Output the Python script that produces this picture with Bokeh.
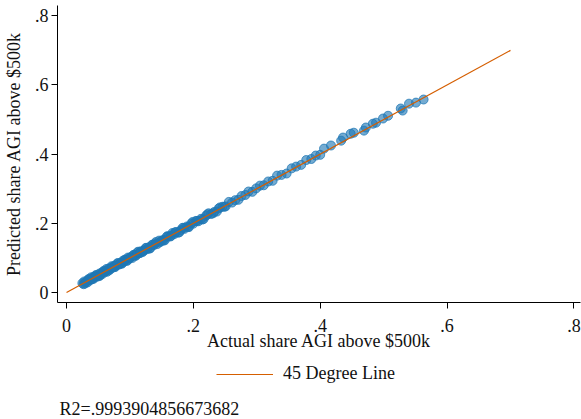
from bokeh.plotting import figure
from bokeh.layouts import column
from bokeh.models import Range1d, FixedTicker, Legend, LegendItem, Label
from bokeh.embed import file_html
from bokeh.resources import INLINE

# ---- data ----
actual_share = [
    0.025, 0.027, 0.028, 0.030, 0.031, 0.033, 0.034, 0.036, 0.037, 0.039,
    0.040, 0.042, 0.043, 0.045, 0.046, 0.048, 0.049, 0.051, 0.052, 0.054,
    0.056, 0.057, 0.059, 0.061, 0.062, 0.064, 0.066, 0.068, 0.069, 0.071,
    0.073, 0.075, 0.077, 0.079, 0.081, 0.083, 0.085, 0.087, 0.089, 0.091,
    0.093, 0.095, 0.097, 0.099, 0.101, 0.104, 0.106, 0.108, 0.110, 0.113,
    0.115, 0.117, 0.120, 0.122, 0.125, 0.127, 0.130, 0.132, 0.135, 0.138,
    0.140, 0.143, 0.146, 0.149, 0.152, 0.155, 0.158, 0.161, 0.164, 0.167,
    0.170, 0.173, 0.176, 0.180, 0.183, 0.186, 0.190, 0.193, 0.197, 0.200,
    0.204, 0.208, 0.212, 0.216, 0.220, 0.224, 0.228, 0.233, 0.237, 0.242,
    0.246, 0.251, 0.256, 0.261, 0.266, 0.271, 0.276, 0.282, 0.287, 0.293,
    0.299, 0.305, 0.311, 0.318, 0.325, 0.332, 0.339, 0.347, 0.355, 0.362,
    0.370, 0.378, 0.386, 0.393, 0.400,
    0.406, 0.417, 0.433, 0.436, 0.448, 0.453, 0.469, 0.472, 0.483, 0.488,
    0.499, 0.507, 0.527, 0.530, 0.540, 0.551, 0.563,
]
predicted_share = [
    0.027, 0.024, 0.032, 0.029, 0.031, 0.029, 0.037, 0.037, 0.035, 0.044,
    0.039, 0.044, 0.040, 0.045, 0.050, 0.046, 0.050, 0.047, 0.055, 0.053,
    0.058, 0.054, 0.063, 0.060, 0.062, 0.060, 0.069, 0.069, 0.067, 0.076,
    0.072, 0.077, 0.074, 0.079, 0.085, 0.081, 0.086, 0.083, 0.092, 0.090,
    0.095, 0.092, 0.101, 0.098, 0.101, 0.100, 0.109, 0.109, 0.108, 0.118,
    0.114, 0.119, 0.117, 0.122, 0.129, 0.125, 0.131, 0.128, 0.138, 0.137,
    0.142, 0.140, 0.150, 0.148, 0.152, 0.151, 0.161, 0.162, 0.162, 0.172,
    0.169, 0.175, 0.173, 0.180, 0.187, 0.184, 0.191, 0.189, 0.200, 0.199,
    0.207, 0.206, 0.213, 0.212, 0.222, 0.229, 0.227, 0.233, 0.234, 0.246,
    0.248, 0.249, 0.262, 0.260, 0.267, 0.268, 0.279, 0.282, 0.292, 0.291,
    0.301, 0.309, 0.310, 0.321, 0.323, 0.338, 0.340, 0.344, 0.359, 0.364,
    0.369, 0.383, 0.386, 0.396, 0.398,
    0.416, 0.425, 0.439, 0.448, 0.459, 0.462, 0.468, 0.477, 0.488, 0.491,
    0.503, 0.511, 0.532, 0.526, 0.546, 0.549, 0.558,
]
# second batch of the dense low-end band
actual_share_b = [
    0.029, 0.035, 0.041, 0.047, 0.053, 0.058, 0.063, 0.067, 0.072, 0.076,
    0.080, 0.084, 0.088, 0.092, 0.096, 0.100, 0.105, 0.109, 0.112, 0.116,
    0.121, 0.126, 0.131, 0.136, 0.141, 0.147, 0.153, 0.159, 0.165, 0.171,
    0.178, 0.185, 0.192, 0.199, 0.206, 0.214, 0.222, 0.231, 0.240, 0.249,
]
predicted_share_b = [
    0.026, 0.039, 0.039, 0.050, 0.049, 0.060, 0.068, 0.064, 0.073, 0.074,
    0.084, 0.083, 0.085, 0.095, 0.092, 0.101, 0.107, 0.106, 0.116, 0.114,
    0.120, 0.129, 0.127, 0.138, 0.146, 0.145, 0.150, 0.163, 0.164, 0.174,
    0.174, 0.187, 0.190, 0.204, 0.207, 0.211, 0.226, 0.229, 0.243, 0.248,
]
line_x = [0.0, 0.7]
line_y = [0.0, 0.7]
tick_values = [0, 0.2, 0.4, 0.6, 0.8]
tick_labels = ["0", ".2", ".4", ".6", ".8"]
x_title = "Actual share AGI above $500k"
y_title = "Predicted share AGI above $500k"
legend_text = "45 Degree Line"
r2_text = "R2=.9993904856673682"

FONT = "Liberation Serif"
TXT = "#111111"
BLUE = "#1f77b4"
ORANGE = "#d55e00"

p = figure(width=581, height=353, output_backend="svg", toolbar_location=None,
           x_range=Range1d(-0.0142, 0.8104), y_range=Range1d(-0.0289, 0.8298),
           min_border_left=56, min_border_right=1, min_border_top=5,
           min_border_bottom=51)
p.outline_line_color = None
p.grid.visible = False
p.background_fill_color = "white"

p.scatter(actual_share + actual_share_b, predicted_share + predicted_share_b,
          size=9, marker="circle",
          fill_color=BLUE, fill_alpha=0.62,
          line_color=BLUE, line_alpha=0.75, line_width=1)
p.line(line_x, line_y, line_color=ORANGE, line_width=1.2)

overrides = {v: s for v, s in zip(tick_values, tick_labels)}
for ax in (p.xaxis[0], p.yaxis[0]):
    ax.ticker = FixedTicker(ticks=tick_values)
    ax.minor_tick_line_color = None
    ax.major_label_overrides = overrides
    ax.major_tick_out = 6
    ax.major_tick_in = 0
    ax.axis_line_color = "black"
    ax.major_tick_line_color = "black"
    ax.major_label_text_font = FONT
    ax.major_label_text_font_size = "18px"
    ax.major_label_text_color = TXT
    ax.axis_label_text_font = FONT
    ax.axis_label_text_font_size = "18px"
    ax.axis_label_text_font_style = "normal"
    ax.axis_label_text_color = TXT

p.xaxis.axis_label = x_title
p.yaxis.axis_label = y_title
p.xaxis.major_label_standoff = 10
p.xaxis.axis_label_standoff = -4
p.yaxis.major_label_standoff = 3
p.yaxis.axis_label_standoff = 8
p.yaxis.major_label_orientation = "horizontal"

# ---- lower strip: legend and R2 note (frame is aligned with the plot above) ----
p2 = figure(width=581, height=66, output_backend="svg", toolbar_location=None,
            x_range=Range1d(0, 1), y_range=Range1d(0, 1),
            x_axis_type=None, y_axis_type=None,
            min_border_left=0, min_border_right=0, min_border_top=0,
            min_border_bottom=0)
p2.outline_line_color = None
p2.grid.visible = False
ln2 = p2.line(line_x, line_y, line_color=ORANGE, line_width=1.2, visible=False)

legend = Legend(items=[LegendItem(label=legend_text, renderers=[ln2])],
                orientation="horizontal", location=(159, 35),
                border_line_color=None, background_fill_alpha=0,
                glyph_width=57, glyph_height=20, label_standoff=10,
                label_text_font=FONT, label_text_font_size="18px",
                label_text_color=TXT, padding=0, margin=0, spacing=0)
p2.add_layout(legend, "center")

r2 = Label(x=2, y=11, x_units="screen", y_units="screen", text=r2_text,
           text_font=FONT, text_font_size="18px", text_color=TXT,
           text_baseline="middle", text_align="left")
p2.add_layout(r2)

layout = column(p, p2, spacing=0)
open("out.html", "w").write(file_html(layout, INLINE))
